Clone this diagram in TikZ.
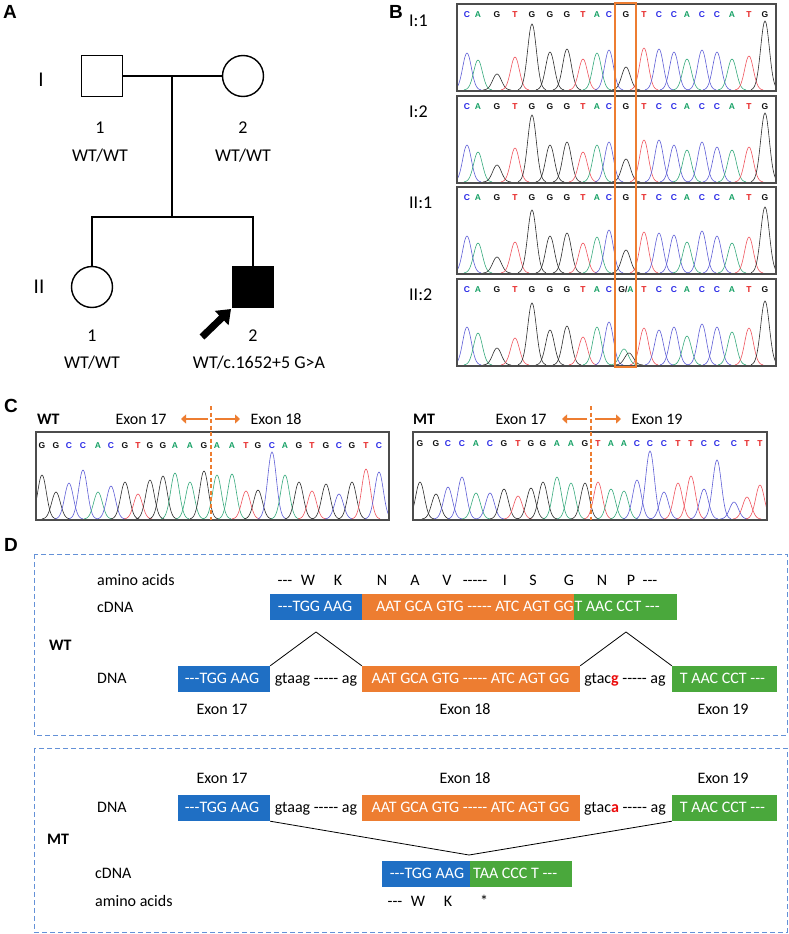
\documentclass[tikz,border=0pt]{standalone}
\usepackage{fontspec}
\setmainfont{Carlito}[Ligatures=TeXOff]
\newfontfamily\arl{Liberation Sans}
\usetikzlibrary{arrows.meta}
\definecolor{blueD}{RGB}{31,111,196}
\definecolor{orangeD}{RGB}{237,125,49}
\definecolor{greenD}{RGB}{74,168,60}
\definecolor{dashblue}{RGB}{100,145,215}
\definecolor{trC}{RGB}{95,95,215}
\definecolor{trA}{RGB}{55,170,125}
\definecolor{trG}{RGB}{45,45,45}
\definecolor{trT}{RGB}{240,85,95}
\definecolor{ltC}{RGB}{40,40,230}
\definecolor{ltA}{RGB}{20,160,100}
\definecolor{ltG}{RGB}{20,20,20}
\definecolor{ltT}{RGB}{230,30,30}
\definecolor{redD}{RGB}{235,10,10}
\newcommand\fsA{\fontsize{16}{19}\selectfont}
\newcommand\fsP{\fontsize{18}{21}\selectfont}
\newcommand\pk[4]{\draw[draw=#4,line width=0.6pt] plot[domain=-14:14,samples=29,smooth] ({#1+\x},{#2-#3*exp(-((\x)*(\x)/38))});}
\begin{document}
\begin{tikzpicture}[x=1pt,y=-1pt,
  txt/.style={inner sep=0pt, font=\fsA},
  ptxt/.style={inner sep=0pt, font=\fsP},
  panel/.style={inner sep=0pt, font=\arl\bfseries\fontsize{19}{21}\selectfont},
  gen/.style={inner sep=0pt, font=\fontsize{21}{24}\selectfont},
  ped/.style={draw=black, line width=1.4pt, inner sep=0pt, minimum size=41pt},
  chl/.style={inner sep=0pt, font=\arl\bfseries\fontsize{8.5}{9}\selectfont},
  cbox/.style={draw=black!70, line width=1.2pt},
  bar/.style={inner sep=0pt, minimum height=26pt},
  bt/.style={txt, text height=11pt, text depth=3pt},
  wt/.style={bt, text=white},
  dbox/.style={draw=dashblue, line width=1pt, dash pattern=on 5pt off 3pt},
  exarr/.style={draw=orangeD, line width=2.5pt, -{Triangle[length=5pt,width=9pt]}},
  cut/.style={draw=orangeD, line width=1.5pt, dash pattern=on 4pt off 2.5pt},
  spl/.style={draw=black, line width=0.8pt}
]
\fill[white] (0,0) rectangle (789,934);
\useasboundingbox (0,0) rectangle (789,934);

% ---------------- Panel A ----------------
\node[panel] (lA) at (10,12) {A};
\node[gen] (gI) at (41,80) {I};
\node[gen] (gII) at (39,287) {II};
\node[ped] (I1) at (102,76) {};
\node[ped, circle] (I2) at (243,76) {};
\node[ped, circle] (II1) at (92,287) {};
\node[ped, fill=black] (II2) at (253,287) {};
\coordinate (mar) at (172,76);
\coordinate (sib) at (172,217);
\draw[ped] (I1.east) -- (I2.west);
\draw[ped] (mar) -- (sib);
\draw[ped] (II1.north) |- (sib) -| (II2.north);
\node[ptxt] (n11) at (100,128) {1};
\node[ptxt] (g11) at (100,156) {WT/WT};
\node[ptxt] (n12) at (243,128) {2};
\node[ptxt] (g12) at (243,156) {WT/WT};
\node[ptxt] (n21) at (92,336) {1};
\node[ptxt] (g21) at (92,363) {WT/WT};
\node[ptxt] (n22) at (253,336) {2};
\node[ptxt] (g22) at (259,363) {WT/c.1652+5 G>A};
\coordinate (arT) at (202,337);
\coordinate (arH) at (231,309);
\draw[line width=7pt, -{Triangle[length=13pt,width=19pt]}] (arT) -- (arH);

% ---------------- Panel B ----------------
\foreach \px/\bb/\ha/\hb/\hc/\hd in {467/C/37/37/37/38, 478/A/30/30/30/32, 497/G/16/17/16/17, 515/T/33/34/31/27, 532/G/66/67/63/62, 550/G/38/37/37/35, 567/G/41/40/40/39, 583/T/31/30/30/28, 597/A/37/37/36/38, 609/C/40/40/43/43, 626/G/23/23/23/0, 644/T/42/42/41/37, 659/C/41/42/40/35, 674/C/38/37/38/38, 687/A/31/32/31/29, 702/C/40/40/42/41, 717/C/38/35/37/38, 732/A/31/32/30/33, 749/T/34/35/36/37, 765/G/69/69/66/64}
{
 \pk{\px}{90}{\ha}{tr\bb}
 \pk{\px}{182}{\hb}{tr\bb}
 \pk{\px}{273}{\hc}{tr\bb}
 \pk{\px}{365}{\hd}{tr\bb}
 \node[chl, text=lt\bb] (ba\px) at (\px,15) {\bb};
 \node[chl, text=lt\bb] (bb\px) at (\px,107) {\bb};
 \node[chl, text=lt\bb] (bc\px) at (\px,198) {\bb};
 \ifnum\px=626\relax\else\node[chl, text=lt\bb] (bd\px) at (\px,290) {\bb};\fi
}
\pk{624}{365}{16}{trA}
\pk{629}{365}{12}{trG}
\node[chl, text=ltG] (bdGA) at (626,290) {G/\textcolor{ltA}{A}};
\fill[white] (440,0) rectangle (456.4,370);
\fill[white] (776.6,0) rectangle (789,370);
\node[panel] (lB) at (396,12) {B};
\node[ptxt, anchor=west] (r1) at (409,21) {I:1};
\node[ptxt, anchor=west] (r2) at (409,112) {I:2};
\node[ptxt, anchor=west] (r3) at (409,203) {II:1};
\node[ptxt, anchor=west] (r4) at (409,295) {II:2};
\draw[cbox] (457,4) rectangle (776,91);
\draw[cbox] (457,96) rectangle (776,183);
\draw[cbox] (457,187) rectangle (776,274);
\draw[cbox] (457,279) rectangle (776,366);
\draw[orangeD, line width=2pt] (615,3) rectangle (636,367);

% ---------------- Panel C ----------------
\node[panel] (lC) at (11,406) {C};
\node[txt, font=\fsA\bfseries, anchor=west] (cWT) at (37,419) {WT};
\node[txt] (cE17a) at (141,419) {Exon 17};
\node[txt] (cE18) at (276,419) {Exon 18};
\node[txt, font=\fsA\bfseries, anchor=west] (cMT) at (413,419) {MT};
\node[txt] (cE17b) at (521,419) {Exon 17};
\node[txt] (cE19) at (657,419) {Exon 19};
\foreach \px/\bb/\h in {42/G/44,56/G/27,69/C/36,83/C/49,98/A/27,111/C/33,125/G/37,138/T/25,150/G/39,163/G/43,175/A/46,190/A/37,204/G/48,217/A/44,232/A/45,246/T/28,258/G/29,272/C/67,285/A/44,299/G/37,312/T/28,326/G/35,339/C/25,352/G/37,366/T/50,379/C/47}
{\pk{\px}{519}{\h}{tr\bb}
 \node[chl, text=lt\bb] (cw\px) at (\px,446) {\bb};}
\foreach \px/\bb/\h in {420/G/37,436/G/25,448/C/32,462/C/42,476/A/26,490/C/26,504/G/30,518/T/23,531/G/31,543/G/37,557/A/42,571/A/36,585/G/36,598/T/37,611/A/30,624/A/28,637/C/39,650/C/68,664/C/27,678/T/36,691/T/43,704/C/30,717/C/59,734/C/17,747/T/22,760/T/34}
{\pk{\px}{519}{\h}{tr\bb}
 \node[chl, text=lt\bb] (cm\px) at (\px,444) {\bb};}
\fill[white] (20,520.6) rectangle (400,530);
\fill[white] (400,520.6) rectangle (780,530);
\fill[white] (20,440) rectangle (35.4,520);
\fill[white] (389.6,440) rectangle (395,520);
\fill[white] (405,440) rectangle (412.4,520);
\fill[white] (767.6,440) rectangle (780,520);
\draw[cbox] (36,432) rectangle (389,520);
\draw[cbox] (413,432) rectangle (767,520);
\coordinate (cwT) at (211,406); \coordinate (cwB) at (211,520);
\draw[cut] (cwT) -- (cwB);
\coordinate (cwL1) at (208,419); \coordinate (cwL2) at (181,419);
\coordinate (cwR1) at (215,419); \coordinate (cwR2) at (240,419);
\draw[exarr] (cwL1) -- (cwL2);
\draw[exarr] (cwR1) -- (cwR2);
\coordinate (cmT) at (591,406); \coordinate (cmB) at (591,520);
\draw[cut] (cmT) -- (cmB);
\coordinate (cmL1) at (587,419); \coordinate (cmL2) at (562,419);
\coordinate (cmR1) at (595,419); \coordinate (cmR2) at (621,419);
\draw[exarr] (cmL1) -- (cmL2);
\draw[exarr] (cmR1) -- (cmR2);

% ---------------- Panel D ----------------
\node[panel] (lD) at (11,545) {D};
\draw[dbox] (34,554) rectangle (787,735);
\draw[dbox] (34,748) rectangle (787,932);

% WT
\node[bt, anchor=west] (wAA) at (97,581) {amino acids};
\node[bt, anchor=west] (wcD) at (97,608) {cDNA};
\node[bt, font=\fsA\bfseries, anchor=west] (wWT) at (49,646) {WT};
\node[bt, anchor=west] (wD) at (97,679) {DNA};
\foreach \px/\aa [count=\i] in {285/---,308/W,338/K,382/N,415/A,447/V,475/-----,505/I,533/S,569/G,602/N,631/P,650/---}
 {\node[bt] (wa\i) at (\px,581) {\aa};}
\node[bar, fill=blueD, minimum width=92pt] (wcB) at (316,607) {};
\node[bar, fill=orangeD, minimum width=212pt] (wcO) at (468,607) {};
\node[bar, fill=greenD, minimum width=103pt] (wcG) at (625.5,607) {};
\node[wt] (wcBt) at (315,607) {---TGG AAG};
\node[wt, anchor=east] (wcOt) at (574,607) {AAT GCA GTG ----- ATC AGT GG};
\node[wt, anchor=west] (wcGt) at (574.3,607) {T AAC CCT ---};
\node[bar, fill=blueD, minimum width=92pt] (wdB) at (224,679) {};
\node[bar, fill=orangeD, minimum width=218pt] (wdO) at (471,679) {};
\node[bar, fill=greenD, minimum width=105pt] (wdG) at (724.5,679) {};
\node[wt] (wdBt) at (222,679) {---TGG AAG};
\node[wt] (wdOt) at (470.5,679) {AAT GCA GTG ----- ATC AGT GG};
\node[wt] (wdGt) at (722.5,679) {T AAC CCT ---};
\node[bt] (wi1) at (316,679) {gtaag ----- ag};
\node[bt] (wi2) at (625,679) {gtac{\color{redD}\bfseries g} ----- ag};
\node[bt] (wx17) at (222,710) {Exon 17};
\node[bt] (wx18) at (465,710) {Exon 18};
\node[bt] (wx19) at (723,710) {Exon 19};
\coordinate (wp1) at (316,632);
\coordinate (wp2) at (626,632);
\draw[spl] (wdB.north east) -- (wp1) -- (wdO.north west);
\draw[spl] (wdO.north east) -- (wp2) -- (wdG.north west);

% MT
\node[bt] (mx17) at (222,779) {Exon 17};
\node[bt] (mx18) at (465,779) {Exon 18};
\node[bt] (mx19) at (723,779) {Exon 19};
\node[bt, anchor=west] (mD) at (97,808) {DNA};
\node[bt, font=\fsA\bfseries, anchor=west] (mMT) at (47,840) {MT};
\node[bt, anchor=west] (mcD) at (95,874) {cDNA};
\node[bt, anchor=west] (mAA) at (95,902) {amino acids};
\node[bar, fill=blueD, minimum width=92pt] (mdB) at (224,808) {};
\node[bar, fill=orangeD, minimum width=218pt] (mdO) at (471,808) {};
\node[bar, fill=greenD, minimum width=105pt] (mdG) at (724.5,808) {};
\node[wt] (mdBt) at (222,808) {---TGG AAG};
\node[wt] (mdOt) at (470.5,808) {AAT GCA GTG ----- ATC AGT GG};
\node[wt] (mdGt) at (722.5,808) {T AAC CCT ---};
\node[bt] (mi1) at (316,808) {gtaag ----- ag};
\node[bt] (mi2) at (625,808) {gtac{\color{redD}\bfseries a} ----- ag};
\node[bar, fill=blueD, minimum width=88pt] (mcB) at (426,874) {};
\node[bar, fill=greenD, minimum width=102pt] (mcG) at (521,874) {};
\node[wt] (mcBt) at (427,874) {---TGG AAG};
\node[wt, anchor=west] (mcGt) at (473,874) {TAA CCC T ---};
\coordinate (mp) at (469,855);
\draw[spl] (mdB.south east) -- (mp) -- (mdG.south west);
\foreach \px/\aa [count=\i] in {395/---,418/W,448/K,484/*}
 {\node[bt] (ma\i) at (\px,902) {\aa};}
\end{tikzpicture}
\end{document}
